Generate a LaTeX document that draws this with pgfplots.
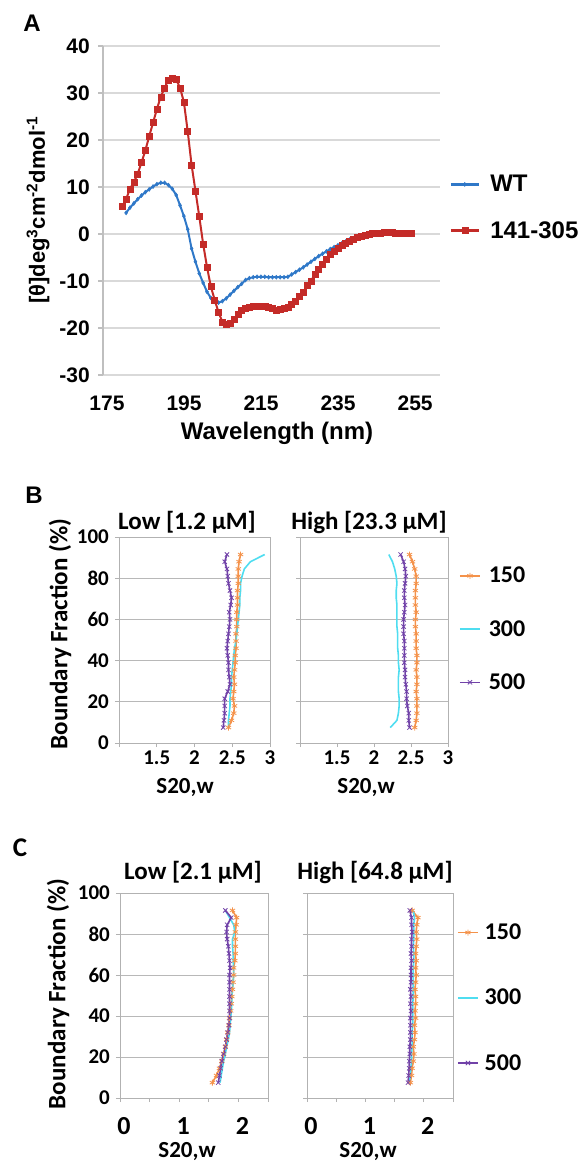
\documentclass[border=0pt]{standalone}
\usepackage{fontspec}
\setmainfont{Liberation Sans}
\newfontfamily\calib{Carlito}
\usepackage{pgfplots}
\pgfplotsset{compat=1.18}
\usepackage{pgfplotstable}

\definecolor{wtblue}{HTML}{2F78C8}
\definecolor{mutred}{HTML}{C42B28}
\definecolor{c150}{HTML}{F4924A}
\definecolor{c300}{HTML}{4FDDF0}
\definecolor{c500}{HTML}{7142A8}
\newcommand\fs[1]{\fontsize{#1}{#1}\selectfont}

% boundary fraction (%) against s20,w for the three speeds
\pgfplotstableread{
y o c p
7.5 2.45 2.45 2.38
11 2.49 2.45 2.39
14.5 2.52 2.46 2.40
18 2.53 2.47 2.40
21.5 2.51 2.47 2.40
25 2.52 2.48 2.44
28.5 2.53 2.49 2.47
32 2.52 2.49 2.46
35.5 2.53 2.50 2.45
39 2.54 2.51 2.45
42.5 2.54 2.52 2.44
46 2.55 2.53 2.43
49.5 2.55 2.55 2.44
53 2.55 2.56 2.45
56.5 2.56 2.57 2.46
60 2.56 2.58 2.47
63.5 2.56 2.59 2.46
67 2.57 2.60 2.48
70.5 2.57 2.60 2.49
74 2.57 2.61 2.47
77.5 2.58 2.61 2.45
81 2.58 2.63 2.44
84.5 2.58 2.66 2.43
88 2.59 2.74 2.40
91.5 2.61 2.93 2.43
}\tabBlow
\pgfplotstableread{
y o c p
7.5 2.55 2.22 2.48
11 2.57 2.31 2.47
14.5 2.58 2.33 2.47
18 2.58 2.34 2.45
21.5 2.58 2.34 2.44
25 2.57 2.33 2.44
28.5 2.58 2.33 2.43
32 2.58 2.33 2.42
35.5 2.57 2.34 2.42
39 2.58 2.33 2.41
42.5 2.58 2.33 2.41
46 2.57 2.32 2.41
49.5 2.57 2.32 2.41
53 2.57 2.32 2.40
56.5 2.56 2.31 2.40
60 2.56 2.31 2.40
63.5 2.57 2.31 2.41
67 2.56 2.31 2.42
70.5 2.56 2.30 2.41
74 2.56 2.30 2.41
77.5 2.57 2.31 2.42
81 2.57 2.30 2.43
84.5 2.55 2.28 2.42
88 2.52 2.25 2.40
91.5 2.48 2.20 2.36
}\tabBhigh
\pgfplotstableread{
y o c p
7.5 1.56 1.69 1.66
11 1.63 1.71 1.68
14.5 1.68 1.73 1.70
18 1.72 1.75 1.72
21.5 1.75 1.78 1.75
25 1.78 1.80 1.78
28.5 1.80 1.83 1.80
32 1.82 1.85 1.82
35.5 1.84 1.86 1.84
39 1.85 1.87 1.85
42.5 1.87 1.88 1.85
46 1.88 1.89 1.85
49.5 1.89 1.89 1.85
53 1.90 1.90 1.85
56.5 1.91 1.91 1.85
60 1.92 1.92 1.85
63.5 1.92 1.92 1.86
67 1.94 1.91 1.85
70.5 1.95 1.91 1.84
74 1.95 1.90 1.83
77.5 1.95 1.90 1.81
81 1.95 1.94 1.80
84.5 1.96 1.92 1.81
88 1.97 1.85 1.88
91.5 1.90 1.78 1.78
}\tabClow
\pgfplotstableread{
y o c p
7.5 1.77 1.75 1.73
11 1.79 1.77 1.74
14.5 1.80 1.78 1.75
18 1.82 1.79 1.75
21.5 1.83 1.79 1.76
25 1.82 1.80 1.76
28.5 1.84 1.80 1.77
32 1.85 1.80 1.77
35.5 1.84 1.81 1.77
39 1.86 1.81 1.77
42.5 1.85 1.81 1.78
46 1.86 1.81 1.77
49.5 1.86 1.82 1.78
53 1.85 1.82 1.77
56.5 1.86 1.82 1.78
60 1.87 1.82 1.78
63.5 1.86 1.82 1.78
67 1.87 1.83 1.79
70.5 1.86 1.83 1.78
74 1.87 1.82 1.79
77.5 1.88 1.83 1.79
81 1.87 1.83 1.80
84.5 1.88 1.83 1.79
88 1.90 1.84 1.79
91.5 1.80 1.82 1.76
}\tabChigh

\pgfplotsset{
  sv/.style={
    scale only axis, anchor=north west, height=206pt,
    ymin=0, ymax=100, ytick={0,20,...,100},
    ymajorgrids, major grid style={draw=black!28, line width=0.9pt},
    axis line style={draw=black!30, line width=0.9pt},
    tick style={draw=black!30, line width=0.9pt},
    tick align=outside, major tick length=4pt,
    xtick pos=bottom, ytick pos=left,
    /pgf/number format/assume math mode=true,
    ticklabel style={font=\calib\bfseries\fs{21}, inner sep=0pt},
    yticklabel style={xshift=-6pt},
    xticklabel style={yshift=-4pt},
  },
  s150/.style={c150, line width=1.6pt, mark=asterisk, mark size=3pt, mark options={line width=0.8pt}},
  s300/.style={c300, line width=1.6pt, mark=none},
  s500/.style={c500, line width=1.6pt, mark=x, mark size=3pt, mark options={line width=0.8pt}},
}

\begin{document}
\begin{tikzpicture}
\path[use as bounding box] (0pt,0pt) rectangle (583pt,-1163pt);

% ---------- A ----------
\node[font=\bfseries\fs{24}] at (32pt,-23pt) {A};
\begin{axis}[
  scale only axis, width=337pt, height=329pt, at={(103pt,-46pt)}, anchor=north west,
  xmin=175, xmax=262.5, ymin=-30, ymax=40,
  xtick={175,195,...,255}, ytick={-30,-20,...,40},
  axis lines=left,
  axis line style={-, draw=black!25, line width=1.1pt},
  x axis line style={draw=none},
  ymajorgrids, major grid style={draw=black!15, line width=1.5pt},
  xtick style={draw=none}, ytick style={draw=black!25, line width=1.1pt},
  tick align=outside, major tick length=5pt,
  /pgf/number format/assume math mode=true,
  ticklabel style={font=\bfseries\fs{21}, inner sep=0pt},
  xticklabel style={yshift=-16pt, xshift=4pt},
  yticklabel style={xshift=-8pt},
  legend style={at={(1.027,0.509)}, anchor=west, draw=none, fill=none, inner sep=0pt,
    font=\bfseries\fs{24}, nodes={inner sep=0pt}, column sep=10pt, row sep=28pt},
  legend cell align=left,
  legend image code/.code={\draw[#1, line width=3pt, mark repeat=2, mark phase=2] plot coordinates {(0pt,0pt)(14pt,0pt)(28pt,0pt)};},
]
\addplot[wtblue, line width=2pt, mark=diamond*, mark size=2pt, mark options={fill=wtblue, line width=0.5pt}] coordinates {
(181,4.5)(182,5.6)(183,6.5)(184,7.4)(185,8.2)(186,8.9)(187,9.5)(188,10.1)(189,10.6)(190,10.9)
(191,10.9)(192,10.4)(193,9.6)(194,8.3)(195,6.1)(196,3.8)(197,1.0)(198,-3.1)(199,-5.9)(200,-8.4)
(201,-10.4)(202,-12.3)(203,-13.6)(204,-14.4)(205,-14.6)(206,-14.3)(207,-13.7)(208,-12.9)(209,-12.1)(210,-11.3)
(211,-10.6)(212,-9.8)(213,-9.4)(214,-9.2)(215,-9.1)(216,-9.1)(217,-9.1)(218,-9.2)(219,-9.2)(220,-9.2)
(221,-9.2)(222,-9.2)(223,-9.1)(224,-8.6)(225,-8.1)(226,-7.6)(227,-7.1)(228,-6.5)(229,-5.9)(230,-5.3)
(231,-4.7)(232,-4.2)(233,-3.7)(234,-3.2)(235,-2.8)(236,-2.4)(237,-2.0)(238,-1.6)(239,-1.2)(240,-0.9)
(241,-0.6)(242,-0.3)(243,-0.1)(244,0.0)(245,0.1)(246,0.1)(247,0.2)(248,0.2)(249,0.2)(250,0.2)
(251,0.1)(252,0.1)(253,0.1)(254,0.1)(255,0.1)
};
\addlegendentry{WT}
\addplot[mutred, line width=2pt, mark=square*, mark size=3pt, mark options={fill=mutred, line width=0.5pt}] coordinates {
(180,5.8)(181,7.4)(182,9.6)(183,11.0)(184,12.8)(185,15.2)(186,17.8)(187,20.8)(188,23.7)(189,26.6)
(190,29.2)(191,31.1)(192,32.8)(193,33.1)(194,32.9)(195,31.1)(196,28.1)(197,21.8)(198,14.7)(199,9.2)
(200,3.7)(201,-2.1)(202,-7.0)(203,-11.2)(204,-14.0)(205,-16.7)(206,-18.7)(207,-19.1)(208,-18.9)(209,-18.1)
(210,-17.1)(211,-16.3)(212,-15.8)(213,-15.5)(214,-15.3)(215,-15.3)(216,-15.3)(217,-15.4)(218,-15.6)(219,-15.9)
(220,-16.2)(221,-16.1)(222,-15.9)(223,-15.6)(224,-15.0)(225,-14.3)(226,-13.2)(227,-12.3)(228,-11.0)(229,-10.0)
(230,-8.6)(231,-7.5)(232,-6.4)(233,-5.4)(234,-4.4)(235,-3.6)(236,-3.0)(237,-2.4)(238,-1.9)(239,-1.5)
(240,-1.1)(241,-0.7)(242,-0.4)(243,-0.2)(244,0.0)(245,0.1)(246,0.2)(247,0.2)(248,0.3)(249,0.3)
(250,0.3)(251,0.2)(252,0.2)(253,0.2)(254,0.1)(255,0.1)
};
\addlegendentry{141-305}
\draw[black!25, line width=1.1pt] (axis cs:195,0) ++(0,-3pt) -- ++(0,6pt);
\draw[black!25, line width=1.1pt] (axis cs:215,0) ++(0,-3pt) -- ++(0,6pt);
\draw[black!25, line width=1.1pt] (axis cs:235,0) ++(0,-3pt) -- ++(0,6pt);
\end{axis}
\node[rotate=90, font=\bfseries\fs{22}] at (38pt,-210pt)
  {[θ]deg\textsuperscript{3}cm\textsuperscript{-2}dmol\textsuperscript{-1}};
\node[font=\bfseries\fs{24}] at (277pt,-433pt) {Wavelength (nm)};

% ---------- B ----------
\node[font=\bfseries\fs{24}] at (34pt,-495pt) {B};
\begin{axis}[sv, at={(119pt,-537pt)}, width=151pt,
  xmin=1, xmax=3, xtick={1,1.5,...,3}, xticklabels={,1.5,2,2.5,3}]
\addplot[s150] table[x=o, y=y] {\tabBlow};
\addplot[s300] table[x=c, y=y] {\tabBlow};
\addplot[s500] table[x=p, y=y] {\tabBlow};
\end{axis}
\begin{axis}[sv, at={(300pt,-537pt)}, width=148pt,
  xmin=1, xmax=3, xtick={1,1.5,...,3}, xticklabels={,1.5,2,2.5,3}, yticklabels={},
  legend style={at={(1.074,0.553)}, anchor=west, draw=none, fill=none, inner sep=0pt,
    font=\calib\bfseries\fs{24}, nodes={inner sep=0pt}, column sep=8pt, row sep=36pt},
  legend cell align=left,
  legend image code/.code={\draw[#1, mark repeat=2, mark phase=2] plot coordinates {(0pt,0pt)(10pt,0pt)(20pt,0pt)};},
]
\addplot[s150] table[x=o, y=y] {\tabBhigh};
\addlegendentry{150}
\addplot[s300] table[x=c, y=y] {\tabBhigh};
\addlegendentry{300}
\addplot[s500] table[x=p, y=y] {\tabBhigh};
\addlegendentry{500}
\end{axis}
\node[font=\calib\bfseries\fs{25}] at (187pt,-522pt) {Low [1.2 μM]};
\node[font=\calib\bfseries\fs{25}] at (369pt,-522pt) {High [23.3 μM]};
\node[font=\calib\bfseries\fs{23}, inner sep=0pt] at (185pt,-788pt) {S20,w};
\node[font=\calib\bfseries\fs{23}, inner sep=0pt] at (366pt,-788pt) {S20,w};
\node[rotate=90, font=\calib\bfseries\fs{25}] at (60pt,-634pt) {Boundary Fraction (\%)};

% ---------- C ----------
\node[font=\calib\bfseries\fs{27}] at (20pt,-848pt) {C};
\begin{axis}[sv, at={(120pt,-893pt)}, width=148pt, height=205pt,
  xmin=0, xmax=2.5, xtick={0,0.5,...,2.5}, xticklabels={0,,1,,2,},
  xticklabel style={font=\calib\bfseries\fs{26}, yshift=-11pt, xshift=4pt}]
\addplot[s150] table[x=o, y=y] {\tabClow};
\addplot[s300] table[x=c, y=y] {\tabClow};
\addplot[s500] table[x=p, y=y] {\tabClow};
\end{axis}
\begin{axis}[sv, at={(307pt,-893pt)}, width=146pt, height=205pt,
  xmin=0, xmax=2.5, xtick={0,0.5,...,2.5}, xticklabels={0,,1,,2,}, yticklabels={},
  xticklabel style={font=\calib\bfseries\fs{26}, yshift=-11pt, xshift=4pt},
  legend style={at={(1.027,0.489)}, anchor=west, draw=none, fill=none, inner sep=0pt,
    font=\calib\bfseries\fs{24}, nodes={inner sep=0pt}, column sep=6pt, row sep=48pt},
  legend cell align=left,
  legend image code/.code={\draw[#1, mark repeat=2, mark phase=2] plot coordinates {(0pt,0pt)(10pt,0pt)(20pt,0pt)};},
]
\addplot[s150] table[x=o, y=y] {\tabChigh};
\addlegendentry{150}
\addplot[s300] table[x=c, y=y] {\tabChigh};
\addlegendentry{300}
\addplot[s500] table[x=p, y=y] {\tabChigh};
\addlegendentry{500}
\end{axis}
\node[font=\calib\bfseries\fs{25}] at (193pt,-872pt) {Low [2.1 μM]};
\node[font=\calib\bfseries\fs{25}] at (375pt,-872pt) {High [64.8 μM]};
\node[font=\calib\bfseries\fs{23}, inner sep=0pt] at (187pt,-1151pt) {S20,w};
\node[font=\calib\bfseries\fs{23}, inner sep=0pt] at (368pt,-1151pt) {S20,w};
\node[rotate=90, font=\calib\bfseries\fs{25}] at (58pt,-994pt) {Boundary Fraction (\%)};
\end{tikzpicture}
\end{document}
